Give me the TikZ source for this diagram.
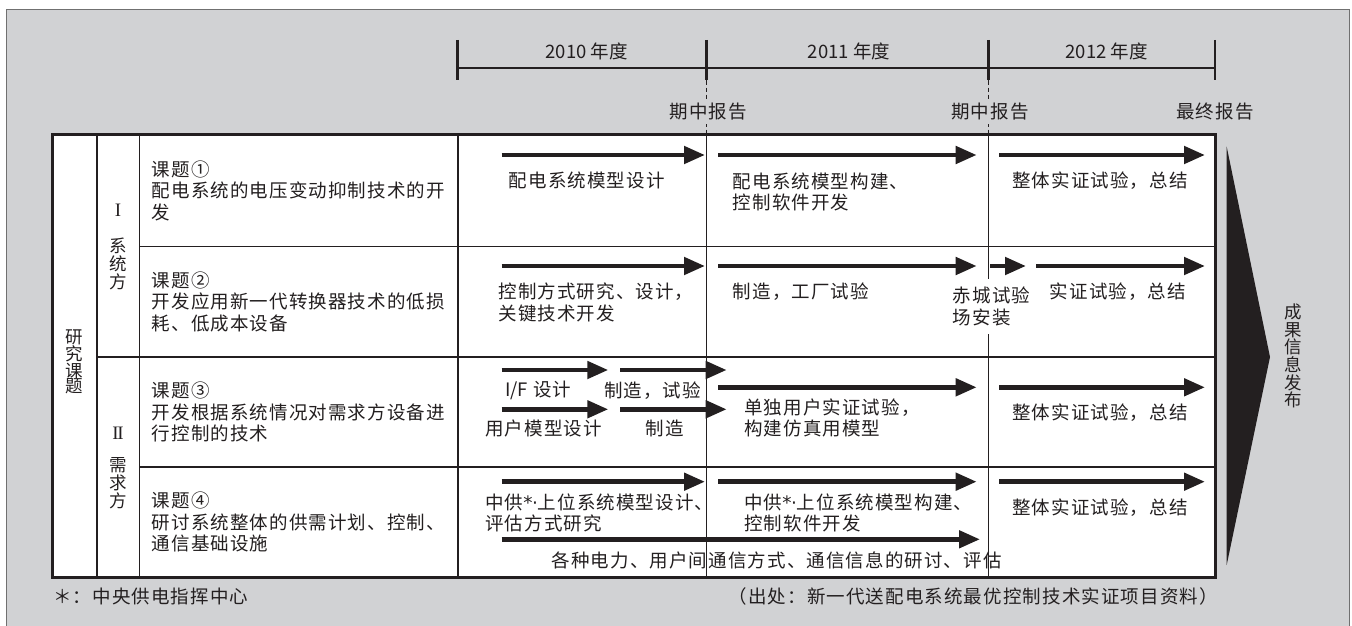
\documentclass[tikz,border=0pt]{standalone}
\usepackage{fontspec}
\setmainfont{Noto Sans CJK SC}[LetterSpace=6]
\newfontfamily\latinfont{Noto Sans CJK SC}
\newfontfamily\symfont{DejaVu Sans}
\newfontfamily\numfont{Liberation Serif}
\usetikzlibrary{arrows.meta}
\definecolor{bggray}{RGB}{209,210,212}
\definecolor{inkblack}{RGB}{35,31,32}
\definecolor{framegray}{RGB}{112,112,112}
\newcommand\txt{\fontsize{18.5}{21.5}\selectfont}
\newcommand\cstar{{\symfont\raisebox{0pt}{*}\kern-0.5pt·}}

\begin{document}
\begin{tikzpicture}[x=1pt,y=-1pt]

\tikzstyle{phase} = [line width=4.7pt, inkblack, -{Triangle[length=21pt,width=17pt]}]
\tikzstyle{lbl} = [inner sep=0pt, font=\txt, text=inkblack, align=left]
\tikzstyle{vtext} = [inner sep=0pt, text=inkblack, align=center]

\useasboundingbox (0,0) rectangle (1352,626);
\fill[bggray] (6,9.5) rectangle (1349.5,640);
\draw[framegray, line width=1pt] (6,640) -- (6,9.5) -- (1349.5,9.5) -- (1349.5,640);

% timeline
\draw[inkblack, line width=2pt] (457.7,68.3) -- (1215,68.3);
\foreach \x in {457.7, 706.5, 988.5, 1215}
  \draw[inkblack, line width=2.5pt] (\x,40) -- (\x,80.5);
\foreach \x in {706.5, 988.5}
  \draw[inkblack, line width=0.8pt, dash pattern=on 4pt off 3pt] (\x,80.5) -- (\x,134);

\node[lbl] (y2010) at (586.7,51.7) {\latinfont 2010 年度};
\node[lbl] (y2011) at (849,51.7) {\latinfont 2011 年度};
\node[lbl] (y2012) at (1106.7,51.7) {\latinfont 2012 年度};
\node[lbl, fill=bggray, inner ysep=4pt] (mid1) at (708.3,111.7) {期中报告};
\node[lbl, fill=bggray, inner ysep=4pt] (mid2) at (990,111.7) {期中报告};
\node[lbl] (final) at (1215,111.7) {最终报告};

% table
\fill[white] (52.7,134.3) rectangle (1215.5,577.3);
\foreach \y in {246.7, 467}
  \draw[inkblack, line width=1.2pt] (139.3,\y) -- (1215.5,\y);
\draw[inkblack, line width=1.2pt] (96.7,357) -- (1215.5,357);
\foreach \x in {96.7, 139.3, 457.7}
  \draw[inkblack, line width=1.6pt] (\x,134.3) -- (\x,577.3);
\foreach \x in {706.5, 988.5}
  \draw[inkblack, line width=0.9pt] (\x,134.3) -- (\x,577.3);
\draw[inkblack, line width=3pt] (52.7,134.3) rectangle (1215.5,577.3);

\node[vtext, font=\fontsize{17.5}{15.5}\selectfont] (topic) at (74.7,362) {研\\究\\课\\题};
\node[vtext, font=\numfont\fontsize{19}{18}\selectfont] (sys) at (118,210) {I};
\node[vtext, font=\fontsize{17.5}{18}\selectfont] (sysname) at (118,263.5) {系\\统\\方};
\node[vtext, font=\numfont\fontsize{19}{18}\selectfont] (dem) at (118,433) {I\kern-1.2ptI};
\node[vtext, font=\fontsize{17.5}{18}\selectfont] (demname) at (118,483.5) {需\\求\\方};

\node[lbl, anchor=west] (task1) at (151.7,190.5) {课题①\\配电系统的电压变动抑制技术的开\\发};
\node[lbl, anchor=west] (task2) at (151.7,301.9) {课题②\\开发应用新一代转换器技术的低损\\耗、低成本设备};
\node[lbl, anchor=west] (task3) at (151.7,412) {课题③\\开发根据系统情况对需求方设备进\\行控制的技术};
\node[lbl, anchor=west] (task4) at (151.7,522.2) {课题④\\研讨系统整体的供需计划、控制、\\通信基础设施};

% task 1
\draw[phase] (501.7,155) -- (705,155);
\draw[phase] (718,155) -- (976.7,155);
\node[lbl] (t1a) at (586.7,180.7) {配电系统模型设计};
\node[lbl, anchor=west] (t1b) at (732.7,192) {配电系统模型构建、\\控制软件开发};

% task 2
\draw[phase] (501.7,266) -- (705,266);
\draw[phase] (718,266) -- (976.7,266);
\draw[phase] (990,266) -- (1026,266);
\draw[phase] (1036,266) -- (1205,266);
\node[lbl, anchor=west] (t2a) at (498.3,302.3) {控制方式研究、设计，\\关键技术开发};
\node[lbl, anchor=west] (t2b) at (732.7,291.7) {制造，工厂试验};
\node[lbl, anchor=west, fill=white, inner xsep=1pt, inner ysep=8pt] (t2c) at (951.7,306.3) {赤城试验\\场安装};
\node[lbl] (t2d) at (1118,291.7) {实证试验，总结};

% task 3
\draw[phase] (501.7,370) -- (608.3,370);
\draw[phase] (620,370) -- (726.7,370);
\draw[phase] (501.7,409.3) -- (608.3,409.3);
\draw[phase] (620,409.3) -- (726.7,409.3);
\draw[phase] (718,387.3) -- (976.7,387.3);
\node[lbl, anchor=west] (t3a) at (505,390.7) {{\latinfont I/F} 设计};
\node[lbl] (t3b) at (652.5,390.7) {制造，试验};
\node[lbl, anchor=west] (t3c) at (485,428.3) {用户模型设计};
\node[lbl] (t3d) at (665,428.3) {制造};
\node[lbl, anchor=west] (t3e) at (744,417.8) {单独用户实证试验，\\构建仿真用模型};

% task 4
\draw[phase] (501.7,481.7) -- (705,481.7);
\draw[phase] (718,481.7) -- (976.7,481.7);
\draw[phase] (501.7,539.3) -- (980,539.3);
\node[lbl, anchor=west] (t4a) at (485,513) {中供\cstar 上位系统模型设计、\\评估方式研究};
\node[lbl, anchor=west] (t4b) at (744,513) {中供\cstar 上位系统模型构建、\\控制软件开发};
\node[lbl] (t4c) at (776.7,560.7) {各种电力、用户间通信方式、通信信息的研讨、评估};

% 2012
\foreach \y/\n in {155/1, 387.3/3, 481.7/4} {
  \draw[phase] (999,\y) -- (1205,\y);
  \node[lbl] (sum\n) at (1100,\y+25.5) {整体实证试验，总结};
}

% release
\fill[inkblack] (1226.7,146.7) -- (1270,357) -- (1226.7,565) -- cycle;
\node[vtext, font=\fontsize{17.5}{17.7}\selectfont] (release) at (1293.3,356) {成\\果\\信\\息\\发\\布};

\node[lbl, anchor=west] (note) at (53,596.7) {＊：中央供电指挥中心};
\node[lbl, anchor=east] (source) at (1218,596.7) {（出处：新一代送配电系统最优控制技术实证项目资料）};

\end{tikzpicture}
\end{document}
